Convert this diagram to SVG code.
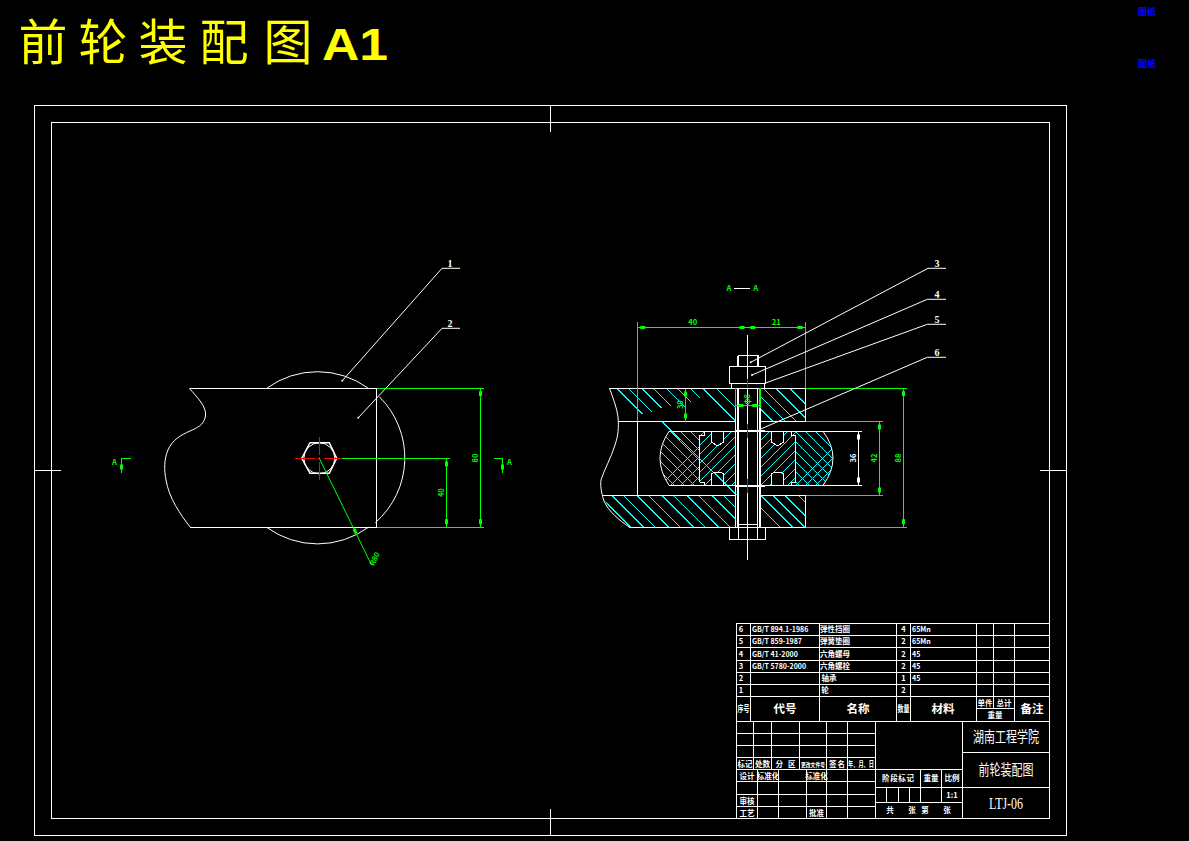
<svg xmlns="http://www.w3.org/2000/svg" xmlns:xlink="http://www.w3.org/1999/xlink" width="1189" height="841" viewBox="0 0 1189 841">
<style>
.w{fill:none;stroke:#fff;stroke-width:1}
.b{fill:none;stroke:#fff;stroke-width:1.5}
.g{fill:none;stroke:#0f0;stroke-width:1}
.gb{fill:none;stroke:#0f0;stroke-width:1.5}
.r{fill:none;stroke:#f00;stroke-width:1}
.c{fill:none;stroke:#0ff;stroke-width:1;shape-rendering:crispEdges}
.cr{shape-rendering:crispEdges}
text{font-family:"Noto Sans CJK SC","Liberation Sans",sans-serif;text-anchor:middle}
.t{fill:#fff;font-size:7.5px;font-weight:700}
.tl{fill:#fff;font-size:7px;font-weight:700;text-anchor:start}
.h{fill:#fff;font-size:11.5px;font-weight:700}
.d{fill:#0f0;font-size:7.5px;font-weight:700}
.n{fill:#fff;font-size:10px;font-weight:700;font-family:"Liberation Serif",serif}
.big{fill:#fff;font-size:15px;font-weight:400}
.ti{fill:#ff0;font-size:49px;font-weight:400}
.bl{fill:#00f;font-size:9px;font-weight:900}
</style>
<defs>
<clipPath id="cl-ul"><path d="M610 388.3H735.5V421.3H618C619 410 614 400 610 388.3Z"/></clipPath>
<clipPath id="cl-ll"><path d="M603 495.3H735.5V527.3H629C618 520 608 510 603 495.3Z"/></clipPath>
<clipPath id="cl-lr"><rect x="760" y="495.3" width="45.3" height="32"/></clipPath>
<clipPath id="cl-rl"><path d="M669 431.3Q651 458 669 485.3H699V431.3Z"/></clipPath>
<clipPath id="cl-rr"><path d="M795.7 431.3H823Q843 458 823 485.3H795.7Z"/></clipPath>
<clipPath id="cl-hl"><path d="M699.3 431.3H711.3V442L717 445L723.3 442V431.3H735.7V485.3H723.3V474L717 472L711.3 474V485.3H699.3Z"/></clipPath>
<clipPath id="cl-hr"><path d="M760 431.3H771.3V442L777 445L783.3 442V431.3H795.7V485.3H783.3V474L777 472L771.3 474V485.3H760Z"/></clipPath>
<rect id="tv" x="-1.5" y="-2.5" width="3" height="5" fill="#0f0"/>
<rect id="th" x="-2.5" y="-1.5" width="5" height="3" fill="#0f0"/>
<rect id="twv" x="-1.5" y="-2.5" width="3" height="5" fill="#fff"/>
</defs>
<rect width="1189" height="841" fill="#000"/>

<g id="title">
<text class="ti" x="43" y="60">前</text><text class="ti" x="103" y="60">轮</text><text class="ti" x="163" y="60">装</text><text class="ti" x="224" y="60">配</text><text class="ti" x="288" y="60">图</text>
<text x="322" y="60" style="text-anchor:start;font-family:'Liberation Sans',sans-serif;font-weight:700;font-size:44px;fill:#ff0" textLength="66" lengthAdjust="spacingAndGlyphs">A1</text>
</g>
<g id="blue-notes">
<text class="bl" x="1147" y="15">图纸</text>
<text class="bl" x="1147" y="67">图纸</text>
</g>

<g id="frame" class="cr">
<rect class="w" x="34.5" y="105.5" width="1032" height="730"/>
<rect class="w" x="51.5" y="122.5" width="998" height="696"/>
<path class="w" d="M550.5 105V132M550.5 809V835M34 470.5H61M1040 470.5H1066"/>
</g>

<g id="front-view">
<g class="cr"><path class="w" d="M189.5 388.5H376.5V527.5H190"/></g>
<path class="w" d="M189.3 388.300C197 397 207 407 205.500 416C204 425 197 428 190 431C181 435 172 440 168 450C164 459 164 470 166 480C169 498 180 514 190.300 527.300"/>
<path class="w" d="M266.700 388.300A86 86 0 0 1 368.300 388.300M379.300 396.700A86 86 0 0 1 375.300 522.700M368.300 527.300A86 86 0 0 1 266.700 527.300"/>
<path class="b" d="M301.700 458.300L310 442.700H329.300L336.700 458.300L329.300 473.300H310Z"/>
<circle class="w" cx="319.300" cy="458.300" r="15.500"/>
<path class="r cr" d="M295 458.500H315M318.300 458.500H320M324 458.500H341.700M319.500 437.300V455M319.500 457.300V459.300M319.500 462.300V480"/>
</g>

<g id="front-dimensions">
<g class="cr">
<path class="g" d="M376.500 388.500H484M376.500 527.500H484M341.700 458.500H450M480.500 388.500V527.500M446.500 458.500V527.500"/>
<path class="g" d="M121.500 472.500V458.500H131M502.500 472.500V458.500H494"/>
</g>
<path class="g" d="M319.300 458.300L371.700 565.300"/>
<use xlink:href="#tv" x="480.500" y="393.700"/><use xlink:href="#tv" x="480.500" y="521.700"/>
<use xlink:href="#tv" x="446.500" y="464"/><use xlink:href="#tv" x="446.500" y="521.700"/>
<use xlink:href="#tv" x="121.500" y="467"/><use xlink:href="#tv" x="502.500" y="467"/>
<use xlink:href="#tv" transform="translate(355 531) rotate(-26)"/>
<text class="d" transform="translate(444 492.700) rotate(-90)">40</text>
<text class="d" transform="translate(478 458) rotate(-90)">80</text>
<text class="d" transform="translate(377 560) rotate(-64)">R80</text>
<text class="d" x="114.500" y="465">A</text>
<text class="d" x="509.500" y="465">A</text>
</g>

<g id="section-view">
<path class="c" clip-path="url(#cl-ul)" d="M616.700 388.300l26 26M628.300 388.300l24 24M641.700 388.300l20 20M653.300 388.300l18 18M666 388.300l20 20M677.300 388.300l14 14M690 388.300l10 10M702.700 388.300l33 33M716 388.300l20 20"/>
<path class="c" d="M760 396l25 25M763 388.300l33 33M775.700 388.300l29.700 29.700M790 388.300l15.300 15.300M760 408.600l13 13"/>
<path class="c" clip-path="url(#cl-ll)" d="M599 495.300l32 32M611.700 495.300l32 32M623.300 495.300l32 32M636.700 495.300l32 32M648.300 495.300l32 32M661.700 495.300l32 32M673.300 495.300l32 32M686.700 495.300l32 32M698.300 495.300l32 32M711.700 495.300l32 32M723.300 495.300l32 32"/>
<path class="c" clip-path="url(#cl-lr)" d="M748 495.300l32 32M760.700 495.300l32 32M773 495.300l32 32M785 495.300l32 32M798 495.300l32 32"/>
<path class="c" clip-path="url(#cl-rl)" d="M610 431l55 55M620 431l55 55M630 431l55 55M640 431l55 55M650 431l55 55M660 431l55 55M670 431l55 55M680 431l55 55M690 431l55 55M660 486l55-55M670 486l55-55M680 486l55-55M690 486l55-55M700 486l55-55M710 486l55-55M720 486l55-55M730 486l55-55M740 486l55-55"/>
<path class="c" clip-path="url(#cl-rr)" d="M745 431l55 55M755 431l55 55M765 431l55 55M775 431l55 55M785 431l55 55M795 431l55 55M805 431l55 55M815 431l55 55M825 431l55 55M795 486l55-55M805 486l55-55M815 486l55-55M825 486l55-55M835 486l55-55M845 486l55-55M855 486l55-55M865 486l55-55M875 486l55-55"/>
<path class="c" clip-path="url(#cl-hl)" d="M650 486l55-55M659 486l55-55M668 486l55-55M677 486l55-55M686 486l55-55M695 486l55-55M704 486l55-55M713 486l55-55M722 486l55-55M731 486l55-55"/>
<path class="c" clip-path="url(#cl-hr)" d="M706 486l55-55M715 486l55-55M724 486l55-55M733 486l55-55M742 486l55-55M751 486l55-55M760 486l55-55M769 486l55-55M778 486l55-55M787 486l55-55"/>
<path class="c" d="M661.700 421.300L736.700 495"/>
<path class="w" d="M609.500 388.300C613 398 617 408 618 417C619 428 618 436 615 445C611 458 604 470 601 480C600 487 602 495 604 501C609 512 619 520 629.500 527.300"/>
<path class="w" d="M669 431.300Q651 458 669 485.300M823 431.300Q843 458 823 485.300"/>
<g class="cr">
<path class="w" d="M609 388.500H805.500V421.500M618 421.500H736M760 421.500H805.500M637.500 421.500V495.500M602 495.500H736M760 495.500H805.500V527.500H629"/>
<path class="w" d="M669 431.500H736M760 431.500H862M669 485.500H736M760 485.500H862"/>
<path class="w" d="M699.500 435V482M795.500 435V482M699.500 435H704V431.500M699.500 482H704V485.500M795.500 435H791V431.500M795.500 482H791V485.500"/>
<path class="w" d="M711.500 431.500V442L716 445H719L723.500 442V431.500M711.500 485.500V474L715 472H720L723.500 474V485.500"/>
<path class="w" d="M771.500 431.500V442L776 445H779L783.500 442V431.500M771.500 485.500V474L775 472H780L783.500 474V485.500"/>
<path class="b" d="M735.500 388.500V527.500M738 388.500V527.500M757.500 388.500V527.500M760 388.500V527.500M735 431H765M735 486H765"/>
<path class="w" d="M729.500 527.500V539.500H765.500V527.500M738 527.500V524H757V527.500M738 527.500V539.500M757 527.500V539.500"/>
<path class="b" d="M729.500 366.500V383.500H765.500V366.500ZM738 355.500H758V366.500M738 355.500V366.500"/>
<path class="w" d="M731.500 383.500V388.500M764.500 383.500V388.500"/>
<path class="w" d="M747.500 335V560"/>
<path class="r" d="M747.500 379V388M747.500 424V438M747.500 479V493"/>
</g>
</g>

<g id="section-dimensions">
<g class="cr">
<path class="g" d="M637.500 322V421M805.500 322V388M637 327.500H805.500M805.500 388.500H907M805.500 421.500H883M805.500 495.500H883M805.500 527.500H907M879.500 421.500V495.500M903.500 388.500V527.500M685.500 388.500V421.500M736 405.500H760"/>
<path class="gb" d="M735.500 388V408M760 388V408"/>
<path class="w" d="M858.500 431.500V485.500M734 288.500H750"/>
</g>
<use xlink:href="#th" x="642.700" y="327.500"/><use xlink:href="#th" x="742" y="327.500"/><use xlink:href="#th" x="752.700" y="327.500"/><use xlink:href="#th" x="800" y="327.500"/>
<use xlink:href="#th" x="741" y="405.500"/><use xlink:href="#th" x="754.700" y="405.500"/>
<use xlink:href="#tv" x="879.500" y="427"/><use xlink:href="#tv" x="879.500" y="490"/>
<use xlink:href="#tv" x="903.500" y="393.700"/><use xlink:href="#tv" x="903.500" y="521.700"/>
<use xlink:href="#tv" x="685.500" y="394"/><use xlink:href="#tv" x="685.500" y="416"/>
<use xlink:href="#twv" x="858.500" y="437"/><use xlink:href="#twv" x="858.500" y="480"/>
<text class="d" x="692.700" y="325">40</text>
<text class="d" x="776.300" y="325">21</text>
<text class="d" transform="translate(683 404.700) rotate(-90)">30</text>
<text class="d" transform="translate(750 399.300) rotate(-90)">φ8</text>
<text class="d" transform="translate(877 458) rotate(-90)">42</text>
<text class="d" transform="translate(901 458) rotate(-90)">88</text>
<text class="t" transform="translate(856 458) rotate(-90)">36</text>
<text class="d" x="729" y="291">A</text>
<text class="d" x="755.700" y="291">A</text>
</g>

<g id="leaders">
<path class="w" d="M342.300 380.700L442 268.300H460M358.300 417.700L442 328.300H460"/>
<path class="w" d="M750.700 362.300L928 268.300H946M752 375L927.300 299.300H946M764.700 383.300L927.300 324.300H946M760 429.300L927.300 357.300H946"/>
<g fill="#fff"><circle cx="342.300" cy="380.700" r="1"/><circle cx="358.300" cy="417.700" r="1"/><circle cx="750.700" cy="362.300" r="1"/><circle cx="752" cy="375" r="1"/></g>
<text class="n" x="450" y="267">1</text><text class="n" x="450" y="327">2</text>
<text class="n" x="937" y="267">3</text><text class="n" x="937" y="298">4</text><text class="n" x="937" y="323">5</text><text class="n" x="937" y="356">6</text>
</g>

<g id="parts-list">
<g class="cr">
<path class="w" d="M736.500 623.500H1049.500M736.500 635.500H1049.500M736.500 647.500H1049.500M736.500 660.500H1049.500M736.500 672.500H1049.500M736.500 684.500H1049.500M736.500 696.500H1049.500M736.500 721.500H1049.500M976.500 708.500H1014.500"/>
<path class="w" d="M736.500 623V818M750.500 623V721M819.500 623V721M896.500 623V721M910.500 623V721M976.500 623V721M993.500 623V708M1014.500 623V721"/>
</g>
<g class="t">
<text x="741" y="632">6</text><text x="741" y="644">5</text><text x="741" y="656.500">4</text><text x="741" y="669">3</text><text x="741" y="681">2</text><text x="741" y="693">1</text>
<text class="tl" x="752" y="632">GB/T 894.1-1986</text><text class="tl" x="752" y="644">GB/T 859-1987</text><text class="tl" x="752" y="656.500">GB/T 41-2000</text><text class="tl" x="752" y="669">GB/T 5780-2000</text>
<text x="835" y="632">弹性挡圈</text><text x="835" y="644">弹簧垫圈</text><text x="835" y="656.500">六角螺母</text><text x="835" y="669">六角螺栓</text><text x="829" y="681">轴承</text><text x="825" y="693">轮</text>
<text x="903.500" y="632">4</text><text x="903.500" y="644">2</text><text x="903.500" y="656.500">2</text><text x="903.500" y="669">2</text><text x="903.500" y="681">1</text><text x="903.500" y="693">2</text>
<text class="tl" x="912" y="632">65Mn</text><text class="tl" x="912" y="644">65Mn</text><text class="tl" x="912" y="656.500">45</text><text class="tl" x="912" y="669">45</text><text class="tl" x="912" y="681">45</text>
<text x="985" y="706">单件</text><text x="1004" y="706">总计</text><text x="995" y="718">重量</text>
</g>
<text class="t" x="743.500" y="712" style="font-size:9px" textLength="12" lengthAdjust="spacingAndGlyphs">序号</text>
<text class="h" x="785" y="713">代号</text><text class="h" x="858" y="713">名称</text>
<text class="t" x="903.500" y="712" style="font-size:9px" textLength="12" lengthAdjust="spacingAndGlyphs">数量</text>
<text class="h" x="943" y="713">材料</text><text class="h" x="1032" y="713">备注</text>
</g>

<g id="title-block">
<g class="cr">
<path class="w" d="M736.500 733.500H875.500M736.500 745.500H875.500M736.500 757.500H875.500M736.500 769.500H962.500M736.500 781.500H875.500M736.500 794.500H875.500M736.500 806.500H875.500M736.500 818.500H962.500M875.500 787.500H962.500M875.500 802.500H962.500M962.500 752.500H1049.500M962.500 787.500H1049.500"/>
<path class="w" d="M753.500 721V769M771.500 721V769M799.500 721V769M757.500 769V818M778.500 769V818M806.500 769V818M826.500 721V818M847.500 721V818M875.500 721V818M962.500 721V818M920.500 769V802M941.500 769V802M886.500 787V802M898.500 787V802M909.500 787V802"/>
</g>
<g class="t">
<text x="745" y="767">标记</text><text x="762.500" y="767">处数</text><text x="785.500" y="767" textLength="20">分区</text><text x="813" y="767" style="font-size:6px" textLength="24" lengthAdjust="spacingAndGlyphs">更改文件号</text><text x="837" y="767" textLength="16">签名</text><text x="861" y="767" textLength="26" lengthAdjust="spacingAndGlyphs">年、月、日</text>
<text x="747" y="779" textLength="15">设计</text><text x="768" y="779">标准化</text><text x="816.500" y="779">标准化</text>
<text x="747" y="803.500" textLength="15">审核</text><text x="747" y="815.500" textLength="15">工艺</text><text x="816.500" y="815.500" textLength="15">批准</text>
<text x="898" y="781" textLength="32">阶段标记</text><text x="931" y="781" textLength="15">重量</text><text x="952" y="781" textLength="15">比例</text>
<text x="952" y="798">1:1</text>
<text x="890" y="813">共</text><text x="912" y="813">张</text><text x="925" y="813">第</text><text x="947" y="813">张</text>
</g>
<text class="big" x="1006" y="742" textLength="66" lengthAdjust="spacingAndGlyphs">湖南工程学院</text>
<text class="big" x="1006" y="775" textLength="55" lengthAdjust="spacingAndGlyphs">前轮装配图</text>
<text x="1006" y="809" style="fill:#fff;font-size:16px;font-family:'Liberation Serif',serif" textLength="34" lengthAdjust="spacingAndGlyphs">LTJ-06</text>
</g>
</svg>
